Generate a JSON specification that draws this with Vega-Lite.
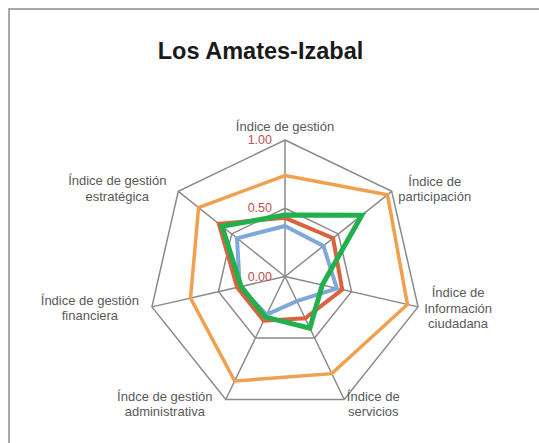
{
  "$schema": "https://vega.github.io/schema/vega-lite/v6.json",
  "width": 533,
  "height": 437,
  "autosize": {"type": "none"},
  "padding": {"left": 9, "top": 9, "right": -3, "bottom": -3},
  "background": "white",
  "view": {"stroke": "#8c8c8c", "strokeWidth": 1.5},
  "title": {
    "text": "Los Amates-Izabal",
    "font": "Liberation Sans",
    "fontSize": 23.5,
    "fontWeight": "bold",
    "color": "#1a1a1a",
    "anchor": "middle",
    "frame": "group",
    "baseline": "alphabetic",
    "offset": 0,
    "dx": -15,
    "dy": 73
  },
  "datasets": {
    "valores": [
      {"eje": "Índice de gestión", "orden": 1, "serie": "Serie 1", "valor": 0.37},
      {"eje": "Índice de participación", "orden": 2, "serie": "Serie 1", "valor": 0.36},
      {"eje": "Índice de Información ciudadana", "orden": 3, "serie": "Serie 1", "valor": 0.39},
      {"eje": "Índice de servicios", "orden": 4, "serie": "Serie 1", "valor": 0.2},
      {"eje": "Índce de gestión administrativa", "orden": 5, "serie": "Serie 1", "valor": 0.31},
      {"eje": "Índice de gestión financiera", "orden": 6, "serie": "Serie 1", "valor": 0.34},
      {"eje": "Índice de gestión estratégica", "orden": 7, "serie": "Serie 1", "valor": 0.45},
      {"eje": "Índice de gestión", "orden": 1, "serie": "Serie 2", "valor": 0.43},
      {"eje": "Índice de participación", "orden": 2, "serie": "Serie 2", "valor": 0.45},
      {"eje": "Índice de Información ciudadana", "orden": 3, "serie": "Serie 2", "valor": 0.43},
      {"eje": "Índice de servicios", "orden": 4, "serie": "Serie 2", "valor": 0.34},
      {"eje": "Índce de gestión administrativa", "orden": 5, "serie": "Serie 2", "valor": 0.36},
      {"eje": "Índice de gestión financiera", "orden": 6, "serie": "Serie 2", "valor": 0.36},
      {"eje": "Índice de gestión estratégica", "orden": 7, "serie": "Serie 2", "valor": 0.62},
      {"eje": "Índice de gestión", "orden": 1, "serie": "Serie 3", "valor": 0.74},
      {"eje": "Índice de participación", "orden": 2, "serie": "Serie 3", "valor": 0.96},
      {"eje": "Índice de Información ciudadana", "orden": 3, "serie": "Serie 3", "valor": 0.92},
      {"eje": "Índice de servicios", "orden": 4, "serie": "Serie 3", "valor": 0.79},
      {"eje": "Índce de gestión administrativa", "orden": 5, "serie": "Serie 3", "valor": 0.85},
      {"eje": "Índice de gestión financiera", "orden": 6, "serie": "Serie 3", "valor": 0.71},
      {"eje": "Índice de gestión estratégica", "orden": 7, "serie": "Serie 3", "valor": 0.81},
      {"eje": "Índice de gestión", "orden": 1, "serie": "Serie 4", "valor": 0.45},
      {"eje": "Índice de participación", "orden": 2, "serie": "Serie 4", "valor": 0.72},
      {"eje": "Índice de Información ciudadana", "orden": 3, "serie": "Serie 4", "valor": 0.28},
      {"eje": "Índice de servicios", "orden": 4, "serie": "Serie 4", "valor": 0.42},
      {"eje": "Índce de gestión administrativa", "orden": 5, "serie": "Serie 4", "valor": 0.33},
      {"eje": "Índice de gestión financiera", "orden": 6, "serie": "Serie 4", "valor": 0.33},
      {"eje": "Índice de gestión estratégica", "orden": 7, "serie": "Serie 4", "valor": 0.59}
    ],
    "ejes": [
      {"orden": 1, "etiqueta": "Índice de gestión"},
      {"orden": 2, "etiqueta": "Índice de\nparticipación"},
      {"orden": 3, "etiqueta": "Índice de\nInformación\nciudadana"},
      {"orden": 4, "etiqueta": "Índice de\nservicios"},
      {"orden": 5, "etiqueta": "Índce de gestión\nadministrativa"},
      {"orden": 6, "etiqueta": "Índice de gestión\nfinanciera"},
      {"orden": 7, "etiqueta": "Índice de gestión\nestratégica"}
    ],
    "anillos": [
      {"orden": 1, "nivel": 0.5}, {"orden": 2, "nivel": 0.5}, {"orden": 3, "nivel": 0.5}, {"orden": 4, "nivel": 0.5},
      {"orden": 5, "nivel": 0.5}, {"orden": 6, "nivel": 0.5}, {"orden": 7, "nivel": 0.5},
      {"orden": 1, "nivel": 1}, {"orden": 2, "nivel": 1}, {"orden": 3, "nivel": 1}, {"orden": 4, "nivel": 1},
      {"orden": 5, "nivel": 1}, {"orden": 6, "nivel": 1}, {"orden": 7, "nivel": 1}
    ],
    "marcas": [
      {"t": 0, "texto": "0.00"},
      {"t": 0.5, "texto": "0.50"},
      {"t": 1, "texto": "1.00"}
    ]
  },
  "layer": [
    {
      "data": {"name": "anillos"},
      "transform": [
        {"calculate": "2*PI*(datum.orden-1)/7", "as": "ang"},
        {"calculate": "datum.nivel*sin(datum.ang)", "as": "px"},
        {"calculate": "datum.nivel*cos(datum.ang)", "as": "py"}
      ],
      "mark": {"type": "line", "interpolate": "linear-closed", "stroke": "#8a8a8a", "strokeWidth": 1.5},
      "encoding": {
        "x": {"field": "px", "type": "quantitative", "scale": {"domain": [-2.02198, 1.88278], "nice": false, "zero": false}, "axis": null},
        "y": {"field": "py", "type": "quantitative", "scale": {"domain": [-1.24176, 1.95971], "nice": false, "zero": false}, "axis": null},
        "detail": {"field": "nivel"},
        "order": {"field": "orden"}
      }
    },
    {
      "data": {"name": "ejes"},
      "transform": [
        {"calculate": "2*PI*(datum.orden-1)/7", "as": "ang"},
        {"calculate": "sin(datum.ang)", "as": "px"},
        {"calculate": "cos(datum.ang)", "as": "py"}
      ],
      "mark": {"type": "rule", "stroke": "#8a8a8a", "strokeWidth": 1.5},
      "encoding": {
        "x": {"field": "px", "type": "quantitative", "axis": null},
        "y": {"field": "py", "type": "quantitative", "axis": null},
        "x2": {"datum": 0},
        "y2": {"datum": 0}
      }
    },
    {
      "data": {"name": "valores"},
      "transform": [
        {"filter": "datum.serie === 'Serie 3'"},
        {"calculate": "2*PI*(datum.orden-1)/7", "as": "ang"},
        {"calculate": "datum.valor*sin(datum.ang)", "as": "px"},
        {"calculate": "datum.valor*cos(datum.ang)", "as": "py"}
      ],
      "mark": {"type": "line", "interpolate": "linear-closed", "stroke": "#F0A04E", "strokeWidth": 3.5},
      "encoding": {
        "x": {"field": "px", "type": "quantitative", "axis": null},
        "y": {"field": "py", "type": "quantitative", "axis": null},
        "order": {"field": "orden"}
      }
    },
    {
      "data": {"name": "valores"},
      "transform": [
        {"filter": "datum.serie === 'Serie 1'"},
        {"calculate": "2*PI*(datum.orden-1)/7", "as": "ang"},
        {"calculate": "datum.valor*sin(datum.ang)", "as": "px"},
        {"calculate": "datum.valor*cos(datum.ang)", "as": "py"}
      ],
      "mark": {"type": "line", "interpolate": "linear-closed", "stroke": "#7EA8DA", "strokeWidth": 4},
      "encoding": {
        "x": {"field": "px", "type": "quantitative", "axis": null},
        "y": {"field": "py", "type": "quantitative", "axis": null},
        "order": {"field": "orden"}
      }
    },
    {
      "data": {"name": "valores"},
      "transform": [
        {"filter": "datum.serie === 'Serie 2'"},
        {"calculate": "2*PI*(datum.orden-1)/7", "as": "ang"},
        {"calculate": "datum.valor*sin(datum.ang)", "as": "px"},
        {"calculate": "datum.valor*cos(datum.ang)", "as": "py"}
      ],
      "mark": {"type": "line", "interpolate": "linear-closed", "stroke": "#D9623F", "strokeWidth": 4},
      "encoding": {
        "x": {"field": "px", "type": "quantitative", "axis": null},
        "y": {"field": "py", "type": "quantitative", "axis": null},
        "order": {"field": "orden"}
      }
    },
    {
      "data": {"name": "valores"},
      "transform": [
        {"filter": "datum.serie === 'Serie 4'"},
        {"calculate": "2*PI*(datum.orden-1)/7", "as": "ang"},
        {"calculate": "datum.valor*sin(datum.ang)", "as": "px"},
        {"calculate": "datum.valor*cos(datum.ang)", "as": "py"}
      ],
      "mark": {"type": "line", "interpolate": "linear-closed", "stroke": "#22B04D", "strokeWidth": 5},
      "encoding": {
        "x": {"field": "px", "type": "quantitative", "axis": null},
        "y": {"field": "py", "type": "quantitative", "axis": null},
        "order": {"field": "orden"}
      }
    },
    {
      "data": {"name": "marcas"},
      "mark": {"type": "text", "align": "right", "baseline": "middle", "dx": -13, "font": "Liberation Sans", "fontSize": 12.5, "color": "#C0504D"},
      "encoding": {
        "x": {"datum": 0, "type": "quantitative"},
        "y": {"field": "t", "type": "quantitative", "axis": null},
        "text": {"field": "texto"}
      }
    },
    {
      "data": {"name": "ejes"},
      "transform": [{"filter": "datum.orden === 1"}, {"calculate": "0", "as": "px"}, {"calculate": "1", "as": "py"}],
      "mark": {"type": "text", "align": "center", "baseline": "middle", "lineBreak": "\n", "lineHeight": 15.5, "dx": 0, "dy": -13, "font": "Liberation Sans", "fontSize": 13, "color": "#595959"},
      "encoding": {"x": {"field": "px", "type": "quantitative"}, "y": {"field": "py", "type": "quantitative"}, "text": {"field": "etiqueta"}}
    },
    {
      "data": {"name": "ejes"},
      "transform": [{"filter": "datum.orden === 2"}, {"calculate": "sin(2*PI/7)", "as": "px"}, {"calculate": "cos(2*PI/7)", "as": "py"}],
      "mark": {"type": "text", "align": "center", "baseline": "middle", "lineBreak": "\n", "lineHeight": 15.5, "dx": 43, "dy": -9.5, "font": "Liberation Sans", "fontSize": 13, "color": "#595959"},
      "encoding": {"x": {"field": "px", "type": "quantitative"}, "y": {"field": "py", "type": "quantitative"}, "text": {"field": "etiqueta"}}
    },
    {
      "data": {"name": "ejes"},
      "transform": [{"filter": "datum.orden === 3"}, {"calculate": "sin(4*PI/7)", "as": "px"}, {"calculate": "cos(4*PI/7)", "as": "py"}],
      "mark": {"type": "text", "align": "center", "baseline": "middle", "lineBreak": "\n", "lineHeight": 15.5, "dx": 40, "dy": -13.5, "font": "Liberation Sans", "fontSize": 13, "color": "#595959"},
      "encoding": {"x": {"field": "px", "type": "quantitative"}, "y": {"field": "py", "type": "quantitative"}, "text": {"field": "etiqueta"}}
    },
    {
      "data": {"name": "ejes"},
      "transform": [{"filter": "datum.orden === 4"}, {"calculate": "sin(6*PI/7)", "as": "px"}, {"calculate": "cos(6*PI/7)", "as": "py"}],
      "mark": {"type": "text", "align": "center", "baseline": "middle", "lineBreak": "\n", "lineHeight": 15.5, "dx": 29, "dy": -2.5, "font": "Liberation Sans", "fontSize": 13, "color": "#595959"},
      "encoding": {"x": {"field": "px", "type": "quantitative"}, "y": {"field": "py", "type": "quantitative"}, "text": {"field": "etiqueta"}}
    },
    {
      "data": {"name": "ejes"},
      "transform": [{"filter": "datum.orden === 5"}, {"calculate": "sin(8*PI/7)", "as": "px"}, {"calculate": "cos(8*PI/7)", "as": "py"}],
      "mark": {"type": "text", "align": "center", "baseline": "middle", "lineBreak": "\n", "lineHeight": 15.5, "dx": -61, "dy": -2.5, "font": "Liberation Sans", "fontSize": 13, "color": "#595959"},
      "encoding": {"x": {"field": "px", "type": "quantitative"}, "y": {"field": "py", "type": "quantitative"}, "text": {"field": "etiqueta"}}
    },
    {
      "data": {"name": "ejes"},
      "transform": [{"filter": "datum.orden === 6"}, {"calculate": "sin(10*PI/7)", "as": "px"}, {"calculate": "cos(10*PI/7)", "as": "py"}],
      "mark": {"type": "text", "align": "center", "baseline": "middle", "lineBreak": "\n", "lineHeight": 15.5, "dx": -62, "dy": -6, "font": "Liberation Sans", "fontSize": 13, "color": "#595959"},
      "encoding": {"x": {"field": "px", "type": "quantitative"}, "y": {"field": "py", "type": "quantitative"}, "text": {"field": "etiqueta"}}
    },
    {
      "data": {"name": "ejes"},
      "transform": [{"filter": "datum.orden === 7"}, {"calculate": "sin(12*PI/7)", "as": "px"}, {"calculate": "cos(12*PI/7)", "as": "py"}],
      "mark": {"type": "text", "align": "center", "baseline": "middle", "lineBreak": "\n", "lineHeight": 15.5, "dx": -61, "dy": -10, "font": "Liberation Sans", "fontSize": 13, "color": "#595959"},
      "encoding": {"x": {"field": "px", "type": "quantitative"}, "y": {"field": "py", "type": "quantitative"}, "text": {"field": "etiqueta"}}
    }
  ]
}
